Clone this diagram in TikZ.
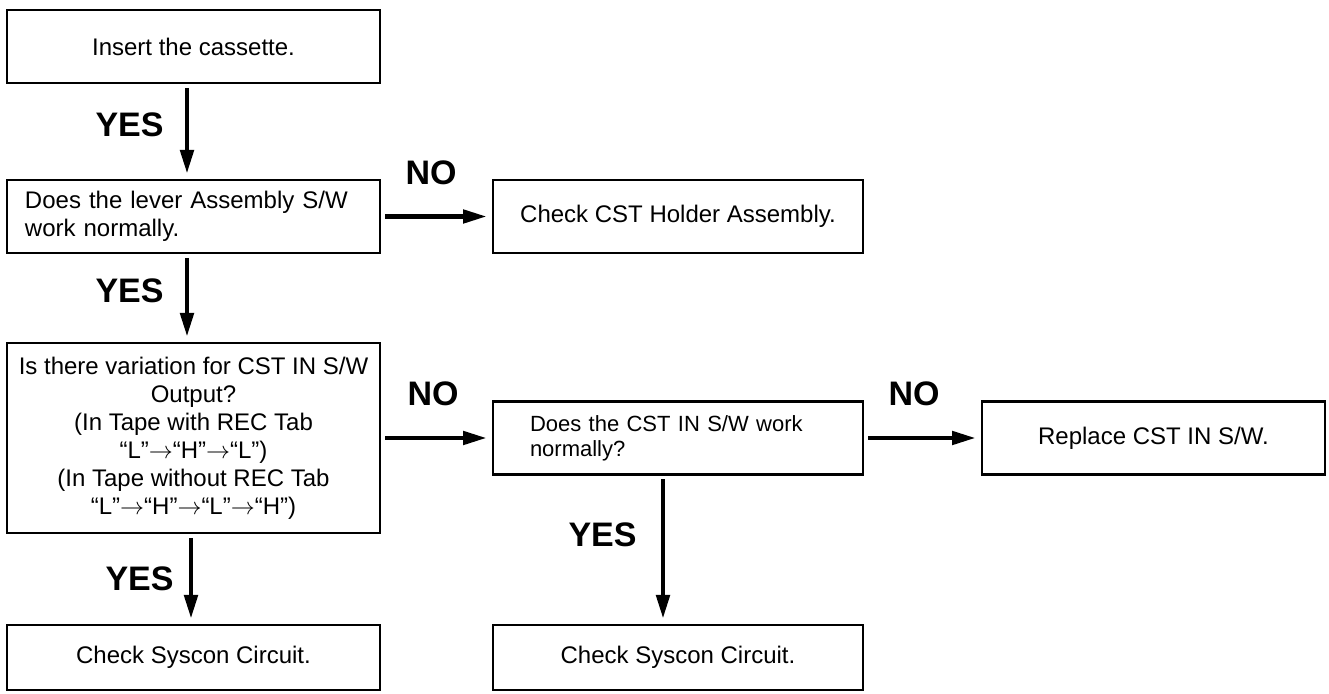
\documentclass[tikz,border=0pt]{standalone}
\usepackage{fontspec}
\setmainfont{Liberation Sans}
\usepackage{tikz}
\usetikzlibrary{
    arrows.meta,
    positioning,
}

\begin{document}
\begin{tikzpicture}[
        >={Triangle[length=12pt, width=6.5pt]},
        box/.style={
            rectangle, draw=black, line width=1.1pt, fill=white,
            minimum width=186.5pt, minimum height=36.5pt,
            inner sep=0pt, outer sep=0pt,
            align=center, font=\fontsize{12}{14}\selectfont
        },
        widebox/.style={box, minimum width=185pt},
        arrow/.style={->, line width=2.4pt, shorten <=2.5pt, shorten >=3pt},
        answer/.style={inner sep=0pt, font=\fontsize{17}{20}\selectfont\bfseries},
    ]

    \path[use as bounding box, fill=white] (0,0) rectangle (664.5pt,-347pt);

    % ── Left column ──
    \node[box, anchor=north west] (insert) at (3.5pt,-5pt) {Insert the cassette.};
    \node[box, below=48.5pt of insert, align=left, text width=168.5pt] (lever)
        {Does the lever Assembly S/W\\work normally.};
    \node[box, below=45pt of lever, minimum height=95pt] (variation)
        {Is there variation for CST IN S/W\\Output?\\(In Tape with REC Tab\\
         “L”$\rightarrow$“H”$\rightarrow$“L”)\\(In Tape without REC Tab\\
         “L”$\rightarrow$“H”$\rightarrow$“L”$\rightarrow$“H”)};
    \node[box, below=46pt of variation, minimum height=32.5pt] (syscon1) {Check Syscon Circuit.};

    % ── Middle column ──
    \node[widebox, right=56.5pt of lever] (holder) {Check CST Holder Assembly.};
    \node[widebox, right=56.5pt of variation, align=left, text width=148pt,
          font=\fontsize{11}{12.5}\selectfont] (cstin)
        {Does the CST IN S/W work\\normally?};
    \node[widebox, right=56.5pt of syscon1, minimum height=32.5pt] (syscon2) {Check Syscon Circuit.};

    % ── Right column ──
    \node[box, right=59.5pt of cstin, minimum width=171.5pt] (replace) {Replace CST IN S/W.};

    % ── YES arrows ──
    \draw[arrow] ([xshift=-3.25pt]insert.south) -- ([xshift=-3.25pt]lever.north)
        node[answer, midway, left=10.5pt, yshift=3.25pt] (yes1) {YES};
    \draw[arrow] ([xshift=-3.25pt]lever.south) -- ([xshift=-3.25pt]variation.north)
        node[answer, midway, left=10.5pt, yshift=3.75pt] (yes2) {YES};
    \draw[arrow] ([xshift=-1.25pt]variation.south) -- ([xshift=-1.25pt]syscon1.north)
        node[answer, midway, left=7.5pt] (yes3) {YES};
    \draw[arrow] ([xshift=-7.5pt]cstin.south) -- ([xshift=-7.5pt]syscon2.north)
        node[answer, midway, left=12pt, yshift=7.5pt] (yes4) {YES};

    % ── NO arrows ──
    \draw[arrow] (lever.east) -- (lever.east -| holder.west)
        node[answer, midway, above=14.5pt, xshift=-2.75pt] (no1) {NO};
    \draw[arrow] (variation.east) -- (variation.east -| cstin.west)
        node[answer, midway, above=15pt, xshift=-1.75pt] (no2) {NO};
    \draw[arrow] (cstin.east) -- (cstin.east -| replace.west)
        node[answer, midway, above=15pt, xshift=-4.25pt] (no3) {NO};

\end{tikzpicture}
\end{document}
